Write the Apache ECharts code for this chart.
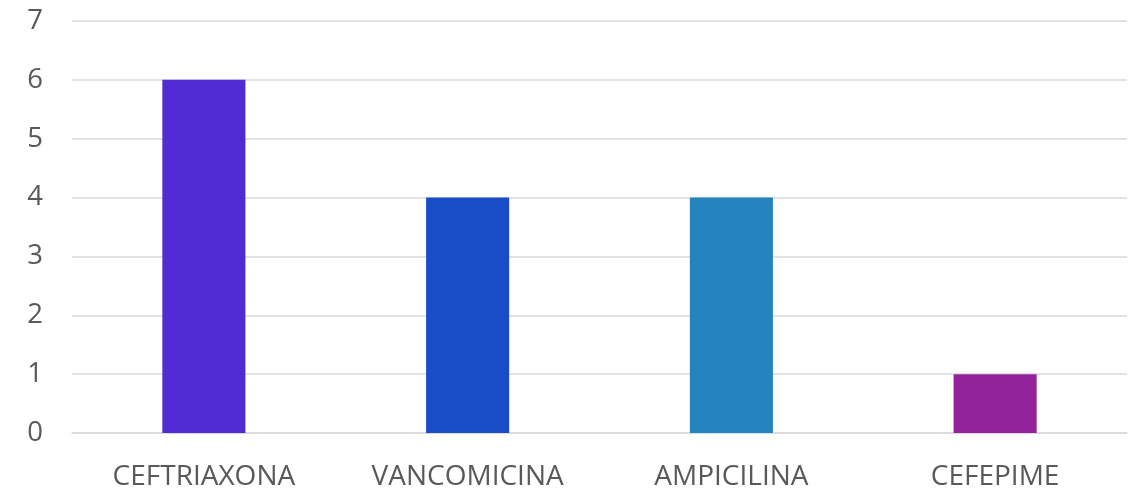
<!DOCTYPE html>
<html><head><meta charset="utf-8">
<script src="https://cdn.jsdelivr.net/npm/echarts@6/dist/echarts.min.js"></script>
<style>html,body{margin:0;padding:0;background:#fff}#c{width:1138px;height:491px}</style>
</head><body><div id="c"></div>
<script>
const categories = ['CEFTRIAXONA','VANCOMICINA','AMPICILINA','CEFEPIME'];
const values = [6,4,4,1];
const barColors = ['#512BD4','#1B4CC7','#2583BD','#93239A'];
const chart = echarts.init(document.getElementById('c'));
chart.setOption({
  animation:false,
  grid:{left:72,right:11,top:21,bottom:57,containLabel:false},
  xAxis:{type:'category',data:categories,
    axisLine:{show:true,lineStyle:{color:'#d9d9d9',width:1.5}},axisTick:{show:false},
    axisLabel:{color:'#595959',fontSize:28,fontFamily:'Open Sans',margin:30}},
  yAxis:{type:'value',min:0,max:7,interval:1,
    axisLine:{show:false},axisTick:{show:false},
    splitLine:{lineStyle:{color:'#d9d9d9',width:1.5}},
    axisLabel:{color:'#595959',fontSize:27.5,fontFamily:'Open Sans',margin:29}},
  series:[{type:'bar',barWidth:'31.5%',
    data:values.map((v,i)=>({value:v,itemStyle:{color:barColors[i]}}))}]
});
</script></body></html>
